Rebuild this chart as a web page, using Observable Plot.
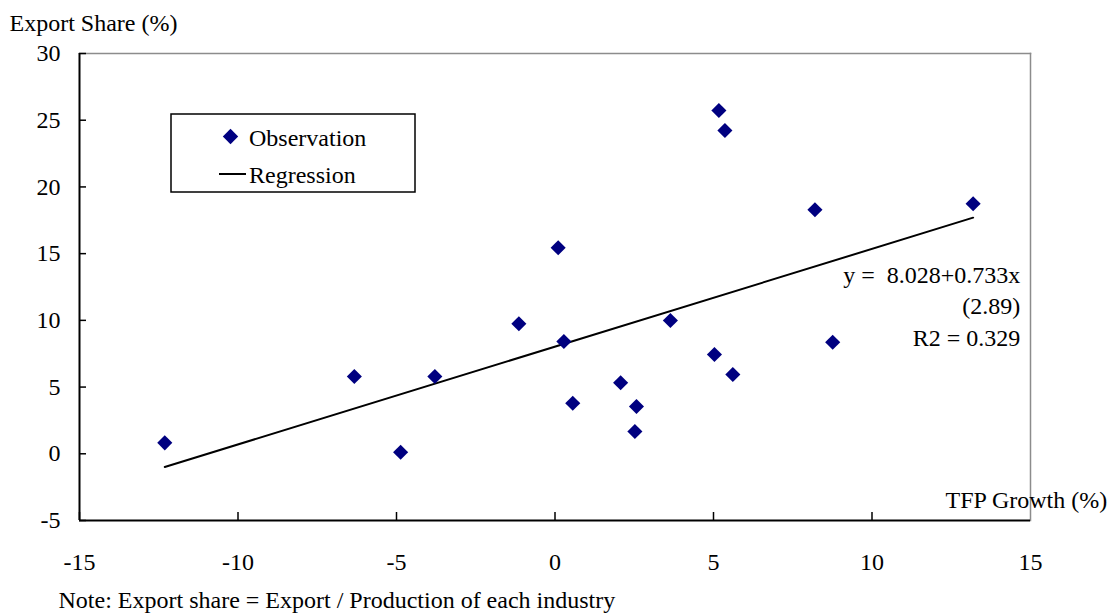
<!DOCTYPE html>
<html>
<head>
<meta charset="utf-8">
<script src="https://cdn.jsdelivr.net/npm/d3@7"></script>
<script src="https://cdn.jsdelivr.net/npm/@observablehq/plot@0.6"></script>
<style>
  html, body { margin: 0; padding: 0; background: #fff; }
  #chart { width: 1108px; height: 613px; }
  #chart svg text { font-family: 'Liberation Serif', 'Times New Roman', Times, serif; font-variant-numeric: normal; }
</style>
</head>
<body>
<div id="chart"></div>
<script>
// ---- data ----
const tfpGrowth   = [-12.31, -6.33, -4.87, -3.79, -1.14, 0.10, 0.28, 0.56, 2.07, 2.57, 2.52, 3.64, 5.03, 5.17, 5.36, 5.61, 8.20, 8.76, 13.19];
const exportShare = [0.82, 5.79, 0.12, 5.79, 9.74, 15.44, 8.42, 3.79, 5.32, 3.54, 1.67, 9.99, 7.44, 25.73, 24.23, 5.94, 18.29, 8.36, 18.74];
const xTicks = [-15, -10, -5, 0, 5, 10, 15];
const yTicks = [-5, 0, 5, 10, 15, 20, 25, 30];
const intercept = 8.028;
const slope = 0.733;
const equationLines = ["y =  8.028+0.733x", "(2.89)", "R2 = 0.329"];
const yTitle = "Export Share (%)";
const xTitle = "TFP Growth (%)";
const noteText = "Note: Export share = Export / Production of each industry";
const legendLabels = ["Observation", "Regression"];

const FONT = "'Liberation Serif', 'Times New Roman', Times, serif";
const NAVY = "#000080";

const obs = tfpGrowth.map((x, i) => ({x, y: exportShare[i]}));
const reg = d3.extent(tfpGrowth).map(x => ({x, y: intercept + slope * x}));

const chart = Plot.plot({
  width: 1108,
  height: 613,
  marginLeft: 79,
  marginRight: 78,
  marginTop: 53,
  marginBottom: 93,
  style: {fontFamily: FONT, fontSize: "24px", background: "#fff", color: "#000"},
  x: {domain: [-15, 15]},
  y: {domain: [-5, 30]},
  marks: [
    Plot.frame({anchor: "top", stroke: "#8c8c8c", strokeWidth: 1.5}),
    Plot.frame({anchor: "right", stroke: "#8c8c8c", strokeWidth: 1.5}),
    Plot.ruleX([-15], {stroke: "#000", strokeWidth: 2}),
    Plot.ruleY([-5], {stroke: "#000", strokeWidth: 2}),
    Plot.axisY(yTicks, {tickSize: -7, fill: "none", label: null, strokeWidth: 1.5}),
    Plot.axisY(yTicks, {tickSize: 0, tickPadding: 19, tickFormat: d => String(d), label: null, fontFamily: FONT, fontSize: 24}),
    Plot.axisX(xTicks.filter(d => d < 15), {tickSize: -8, fill: "none", label: null, strokeWidth: 1.5}),
    Plot.axisX(xTicks, {tickSize: 0, tickPadding: 32, tickFormat: d => String(d), label: null, fontFamily: FONT, fontSize: 24}),
    Plot.line(reg, {x: "x", y: "y", stroke: "#000", strokeWidth: 2}),
    Plot.dot(obs, {x: "x", y: "y", symbol: "diamond2", r: 6.8, fill: NAVY, stroke: "none"}),
    Plot.text([equationLines.join("\n")], {x: 14.68, y: 11.2, textAnchor: "end", lineAnchor: "middle", lineHeight: 1.3125}),
    Plot.text([yTitle], {frameAnchor: "top-left", textAnchor: "start", lineAnchor: "middle", dx: -70, dy: -29.7}),
    Plot.text([xTitle], {frameAnchor: "bottom-right", textAnchor: "start", lineAnchor: "middle", dx: -85, dy: -19.7}),
    Plot.text([noteText], {frameAnchor: "bottom-left", textAnchor: "start", lineAnchor: "middle", dx: -21, dy: 80.3})
  ]
});

document.getElementById("chart").append(chart);

// white box behind the x-axis title (cuts the axis and right border like the original)
const svg = d3.select(chart);
svg.selectAll("text").filter(function() { return this.textContent === xTitle; }).each(function() {
  const bb = this.getBBox();
  const g = this.parentNode;
  const rx = bb.x - 5;
  const r = document.createElementNS("http://www.w3.org/2000/svg", "rect");
  g.insertBefore(r, g.firstChild);
  d3.select(r)
    .attr("x", rx).attr("y", bb.y - 9)
    .attr("width", 1108 - rx).attr("height", bb.height + 24)
    .attr("fill", "#fff").attr("stroke", "none");
});

// legend box
const lg = svg.append("g").attr("font-family", FONT).attr("font-size", 24).attr("text-anchor", "start");
lg.append("rect").attr("x", 171).attr("y", 114).attr("width", 244).attr("height", 78)
  .attr("fill", "#fff").attr("stroke", "#000").attr("stroke-width", 1.5);
lg.append("path").attr("d", d3.symbol(d3.symbolDiamond2, 150)()).attr("transform", "translate(230.5,136.5)").attr("fill", NAVY);
lg.append("text").attr("x", 249).attr("y", 146).attr("text-anchor", "start").text(legendLabels[0]);
lg.append("line").attr("x1", 219).attr("x2", 246).attr("y1", 174).attr("y2", 174).attr("stroke", "#000").attr("stroke-width", 2);
lg.append("text").attr("x", 249).attr("y", 183).attr("text-anchor", "start").text(legendLabels[1]);
</script>
</body>
</html>
